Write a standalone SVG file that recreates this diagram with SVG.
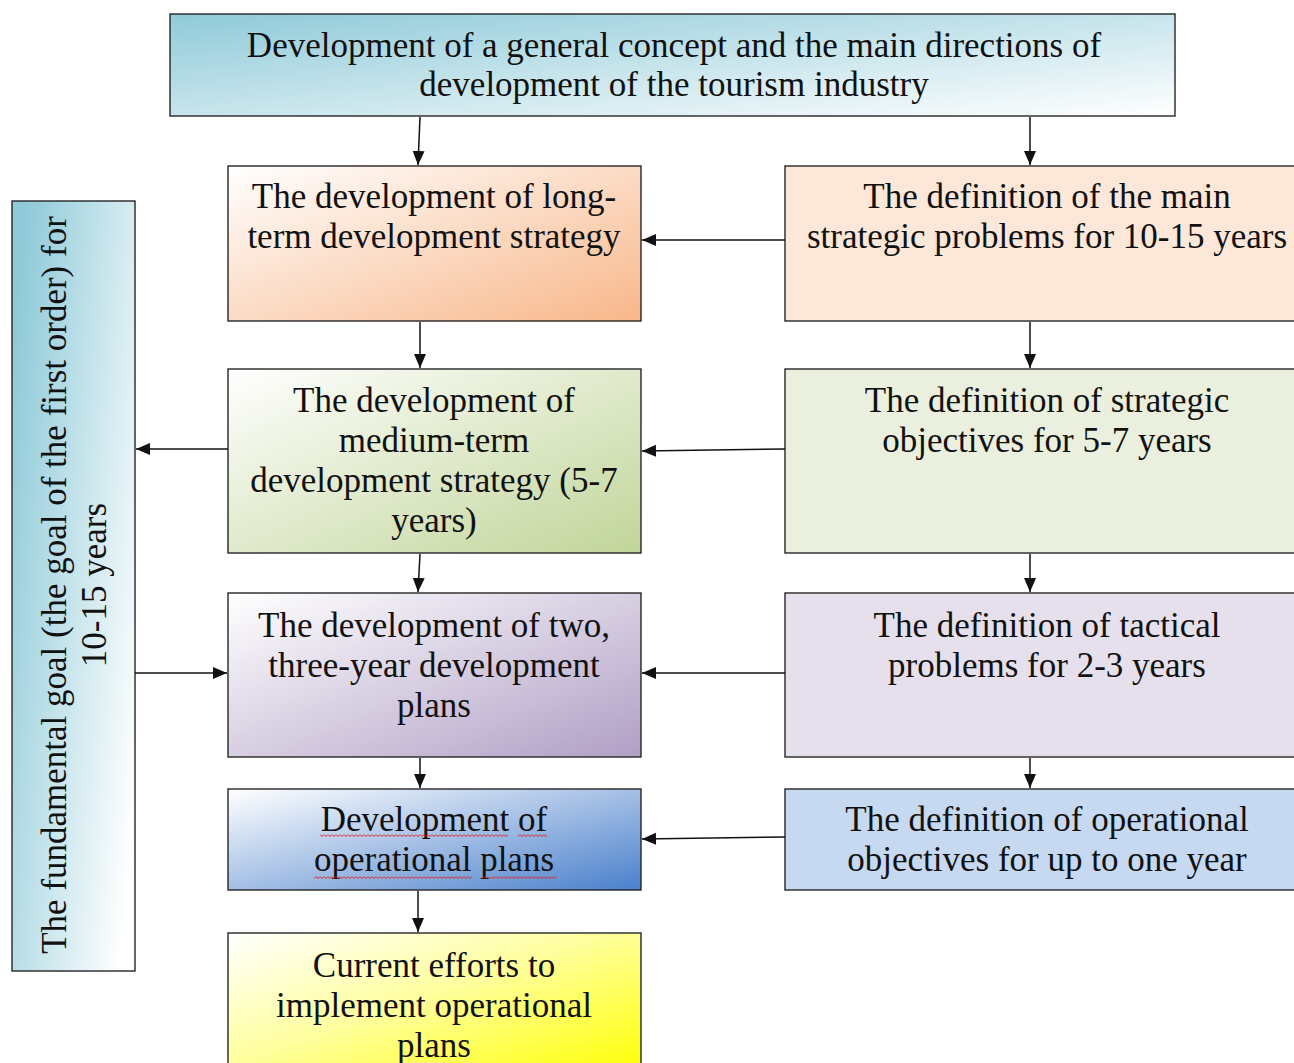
<svg xmlns="http://www.w3.org/2000/svg" width="1294" height="1063" viewBox="0 0 1294 1063">
<style>
.box{stroke:#262626;stroke-width:1.4}
.t{font-family:"Liberation Serif","Times New Roman",serif;font-size:35px;fill:#111;text-anchor:middle}
.c{fill:none;stroke:#111;stroke-width:1.5;marker-end:url(#ah)}
</style>
<defs>
<marker id="ah" markerUnits="userSpaceOnUse" markerWidth="16" markerHeight="14" refX="14" refY="6" orient="auto">
<path d="M0,0 L14,6 L0,12 z" fill="#111"/>
</marker>
<linearGradient id="gTeal" x1="0" y1="0" x2="1" y2="1"><stop offset="0" stop-color="#8fcad9"/><stop offset="1" stop-color="#ffffff"/></linearGradient>
<linearGradient id="gTealV" x1="0" y1="0.2" x2="1" y2="0.8"><stop offset="0" stop-color="#8fcad9"/><stop offset="1" stop-color="#ffffff"/></linearGradient>
<linearGradient id="gOr" x1="0" y1="0" x2="1" y2="1"><stop offset="0" stop-color="#ffffff"/><stop offset="1" stop-color="#f8b78a"/></linearGradient>
<linearGradient id="gGr" x1="0" y1="0" x2="1" y2="1"><stop offset="0" stop-color="#ffffff"/><stop offset="1" stop-color="#c1d599"/></linearGradient>
<linearGradient id="gPu" x1="0" y1="0" x2="1" y2="1"><stop offset="0" stop-color="#ffffff"/><stop offset="1" stop-color="#b09fc5"/></linearGradient>
<linearGradient id="gBl" x1="0" y1="0" x2="1" y2="1"><stop offset="0" stop-color="#ffffff"/><stop offset="1" stop-color="#4a80cc"/></linearGradient>
<linearGradient id="gYe" x1="0" y1="0" x2="1" y2="1"><stop offset="0" stop-color="#ffffff"/><stop offset="0.45" stop-color="#ffffa0"/><stop offset="1" stop-color="#ffff00"/></linearGradient>
<pattern id="wave" patternUnits="userSpaceOnUse" width="4" height="3"><path d="M0,0.5 L2,2.5 L4,0.5" fill="none" stroke="#e81818" stroke-width="1"/></pattern>
</defs>
<rect width="1294" height="1063" fill="#ffffff"/>

<g id="top">
<rect class="box" x="170" y="14" width="1005" height="102" fill="url(#gTeal)"/>
<text class="t" x="674" y="57">Development of a general concept and the main directions of</text>
<text class="t" x="674" y="96">development of the tourism industry</text>
</g>

<g id="fundamental">
<rect class="box" x="12" y="201" width="123" height="770" fill="url(#gTealV)"/>
<text class="t" transform="translate(66,585) rotate(-90)">The fundamental goal (the goal of the first order) for</text>
<text class="t" transform="translate(106,585) rotate(-90)">10-15 years</text>
</g>

<g id="longterm">
<rect class="box" x="228" y="166" width="413" height="155" fill="url(#gOr)"/>
<text class="t" x="434" y="208">The development of long-</text>
<text class="t" x="434" y="248">term development strategy</text>
</g>

<g id="mediumterm">
<rect class="box" x="228" y="369" width="413" height="184" fill="url(#gGr)"/>
<text class="t" x="434" y="412">The development of</text>
<text class="t" x="434" y="452">medium-term</text>
<text class="t" x="434" y="492">development strategy (5-7</text>
<text class="t" x="434" y="532">years)</text>
</g>

<g id="threeyear">
<rect class="box" x="228" y="593" width="413" height="164" fill="url(#gPu)"/>
<text class="t" x="434" y="637">The development of two,</text>
<text class="t" x="434" y="677">three-year development</text>
<text class="t" x="434" y="717">plans</text>
</g>

<g id="operational">
<rect class="box" x="228" y="789" width="413" height="101" fill="url(#gBl)"/>
<text class="t" x="434" y="831">Development of</text>
<text class="t" x="434" y="871">operational plans</text>
<rect x="320" y="834" width="188" height="3" fill="url(#wave)"/>
<rect x="518" y="834" width="29" height="3" fill="url(#wave)"/>
<rect x="314" y="876" width="158" height="3" fill="url(#wave)"/>
<rect x="482" y="876" width="75" height="3" fill="url(#wave)"/>
</g>

<g id="current">
<rect class="box" x="228" y="933" width="413" height="145" fill="url(#gYe)"/>
<text class="t" x="434" y="977">Current efforts to</text>
<text class="t" x="434" y="1017">implement operational</text>
<text class="t" x="434" y="1057">plans</text>
</g>

<g id="strategicproblems">
<rect class="box" x="785" y="166" width="525" height="155" fill="#fce7d8"/>
<text class="t" x="1047" y="208">The definition of the main</text>
<text class="t" x="1047" y="248">strategic problems for 10-15 years</text>
</g>

<g id="strategicobjectives">
<rect class="box" x="785" y="369" width="525" height="184" fill="#eaf0dd"/>
<text class="t" x="1047" y="412">The definition of strategic</text>
<text class="t" x="1047" y="452">objectives for 5-7 years</text>
</g>

<g id="tactical">
<rect class="box" x="785" y="593" width="525" height="164" fill="#e5e0ec"/>
<text class="t" x="1047" y="637">The definition of tactical</text>
<text class="t" x="1047" y="677">problems for 2-3 years</text>
</g>

<g id="opobjectives">
<rect class="box" x="785" y="789" width="525" height="101" fill="#c6d9f1"/>
<text class="t" x="1047" y="831">The definition of operational</text>
<text class="t" x="1047" y="871">objectives for up to one year</text>
</g>

<g id="connectors">
<path class="c" d="M420,117 L418,165"/>
<path class="c" d="M1030,117 L1030,165"/>
<path class="c" d="M785,240 L642,240"/>
<path class="c" d="M420,322 L420,368"/>
<path class="c" d="M1030,322 L1030,368"/>
<path class="c" d="M785,449 L642,451"/>
<path class="c" d="M228,449 L136,449"/>
<path class="c" d="M420,554 L418,592"/>
<path class="c" d="M1030,554 L1030,592"/>
<path class="c" d="M785,673 L642,673"/>
<path class="c" d="M135,673 L227,673"/>
<path class="c" d="M420,758 L420,788"/>
<path class="c" d="M1030,758 L1030,788"/>
<path class="c" d="M785,837 L642,839"/>
<path class="c" d="M418,891 L418,932"/>
</g>
</svg>
